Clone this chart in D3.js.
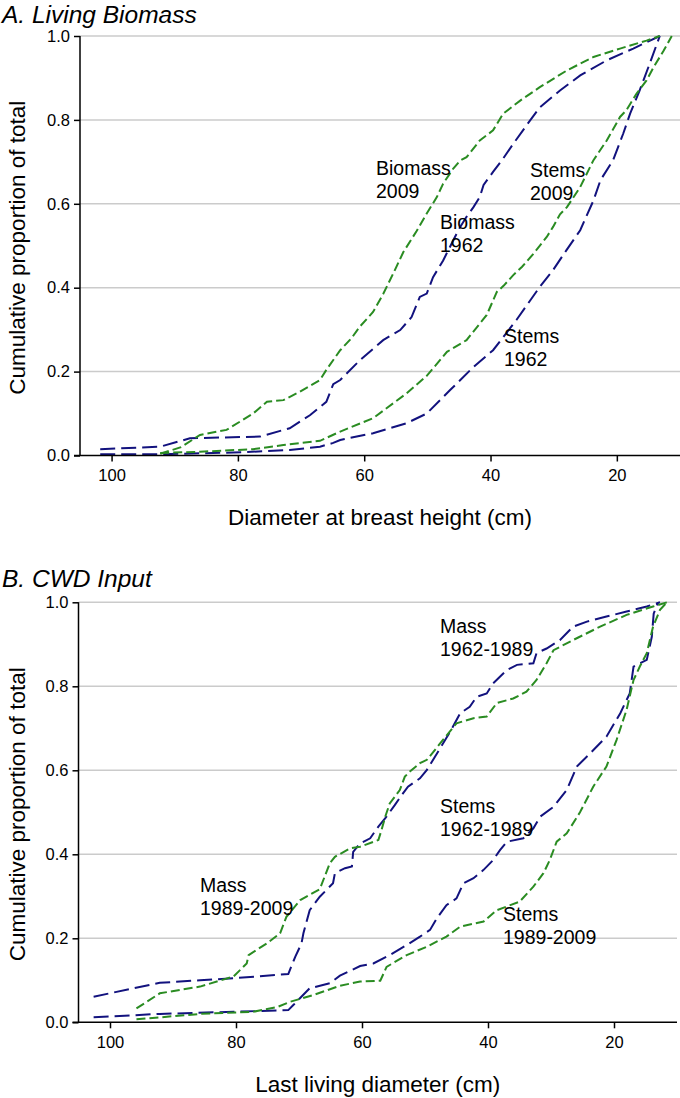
<!DOCTYPE html>
<html><head><meta charset="utf-8">
<script src="https://cdn.jsdelivr.net/npm/d3@7"></script>
<style>
html,body{margin:0;padding:0;background:#fff;}
text{font-family:"Liberation Sans",Arial,sans-serif;fill:#000;}
</style></head>
<body><svg id="c" width="680" height="1098"></svg>
<script>
// ---------- DATA ----------
const yTicks = [0, 0.2, 0.4, 0.6, 0.8, 1.0];
const xTicks = [100, 80, 60, 40, 20];

// Panel A: Living biomass [dbh (cm), cumulative proportion]
const biomass2009 = [[92.3,0.004],[89,0.02],[86,0.049],[81.8,0.061],[77.6,0.10],[75.4,0.128],[72.8,0.132],[70.2,0.152],[67,0.18],[66,0.204],[63.8,0.251],[62,0.28],[60.7,0.307],[58.6,0.342],[57,0.385],[55.4,0.434],[53.8,0.485],[51.7,0.535],[50.1,0.577],[48.5,0.616],[47.5,0.648],[45.9,0.684],[44.8,0.703],[43.8,0.711],[41.7,0.751],[39.6,0.775],[38.0,0.815],[35.3,0.846],[32.2,0.878],[27.9,0.918],[23.7,0.95],[19.5,0.97],[15.3,0.989],[13.2,1.0]];
const biomass1962 = [[101.8,0.015],[92.3,0.021],[87.6,0.041],[76.5,0.045],[71.8,0.065],[68.6,0.096],[66,0.128],[64.9,0.17],[63.8,0.18],[60.7,0.227],[57,0.275],[54.3,0.299],[52.5,0.33],[51.2,0.378],[50.1,0.386],[49.1,0.425],[47.5,0.465],[45.9,0.513],[44.8,0.545],[43.8,0.569],[42.7,0.592],[41.7,0.616],[41.1,0.645],[39.6,0.676],[38.0,0.708],[36.4,0.743],[34.3,0.787],[32.2,0.83],[29.0,0.87],[25.8,0.906],[21.6,0.942],[17.4,0.97],[13.2,1.0]];
const stems2009 = [[92.3,0.006],[86,0.009],[77.6,0.015],[72.8,0.025],[67,0.035],[63.8,0.057],[58.6,0.089],[53.3,0.148],[50.1,0.19],[46.9,0.247],[43.8,0.275],[40.6,0.335],[39,0.39],[37.9,0.405],[36.4,0.43],[35.0,0.45],[33.2,0.481],[31.1,0.521],[30.1,0.545],[29.0,0.575],[27.9,0.592],[25.8,0.64],[23.7,0.704],[21.6,0.751],[19.5,0.807],[18.5,0.823],[16.9,0.862],[15.3,0.894],[14.2,0.925],[12.6,0.965],[11.3,1.0]];
const stems1962 = [[101.8,0.003],[92.3,0.003],[80.7,0.007],[71.8,0.013],[67,0.021],[64.9,0.03],[63.8,0.037],[58.6,0.053],[53.3,0.077],[50.1,0.10],[46.4,0.156],[42.7,0.211],[39.6,0.251],[35.9,0.323],[32.2,0.402],[30.1,0.442],[28,0.489],[25.8,0.537],[23.7,0.608],[22.6,0.656],[20.6,0.704],[19.0,0.767],[17.9,0.815],[16.4,0.87],[14.8,0.934],[13.2,1.0]];

// Panel B: CWD input [last living diameter (cm), cumulative proportion]
const mass1962_1989 = [[102.6,0.061],[92.1,0.094],[85.7,0.10],[80.4,0.105],[71.7,0.115],[70.6,0.156],[69.6,0.188],[69.3,0.212],[68.3,0.267],[66.7,0.299],[64.6,0.331],[64.3,0.355],[62.7,0.367],[61.6,0.371],[61.4,0.406],[60.3,0.426],[58.7,0.438],[57.4,0.466],[56.3,0.486],[54.8,0.517],[53.7,0.541],[52.7,0.561],[50.8,0.581],[49.7,0.601],[48.1,0.64],[46.0,0.692],[44.4,0.736],[42.9,0.751],[41.8,0.775],[40.2,0.783],[39.2,0.807],[37.0,0.839],[35.4,0.851],[32.8,0.855],[32.3,0.879],[30.7,0.89],[28.6,0.91],[26.5,0.942],[24.3,0.954],[21.2,0.966],[18.0,0.978],[14.8,0.99],[12.7,1.0]];
const mass1989_2009 = [[95.8,0.033],[92.1,0.069],[85.7,0.085],[80.4,0.109],[78.3,0.14],[78.0,0.16],[75.1,0.188],[73.0,0.212],[72.0,0.251],[69.8,0.291],[66.7,0.317],[65.1,0.379],[64.3,0.394],[61.9,0.414],[60.3,0.418],[57.4,0.434],[56.9,0.458],[56.3,0.49],[55.6,0.521],[54.0,0.553],[53.2,0.585],[52.4,0.597],[50.8,0.617],[49.7,0.625],[47.6,0.664],[45.0,0.712],[42.3,0.724],[40.2,0.728],[38.6,0.76],[36.0,0.771],[33.9,0.787],[32.3,0.815],[30.7,0.855],[29.6,0.886],[26.5,0.91],[22.2,0.942],[18.0,0.97],[13.8,0.99],[11.6,1.0]];
const stems1962_1989 = [[102.6,0.012],[92.1,0.02],[80.4,0.025],[71.7,0.029],[70.9,0.041],[68.3,0.081],[65.1,0.093],[63.5,0.111],[60.3,0.134],[58.2,0.14],[55.6,0.16],[52.9,0.184],[50.8,0.204],[49.2,0.22],[48.1,0.248],[46.6,0.279],[45.0,0.295],[43.9,0.331],[42.3,0.343],[40.7,0.363],[39.2,0.386],[38.1,0.41],[37.0,0.43],[34.4,0.438],[32.8,0.462],[31.7,0.49],[29.6,0.513],[27.5,0.553],[25.9,0.609],[23.8,0.64],[21.2,0.68],[19.0,0.736],[17.5,0.783],[16.9,0.847],[14.8,0.863],[14.0,0.918],[13.7,0.973],[13.0,1.0]];
const stems1989_2009 = [[95.8,0.007],[85.7,0.02],[77.3,0.025],[73.5,0.036],[71.4,0.049],[67.7,0.065],[63.5,0.087],[60.3,0.097],[57.1,0.099],[56.1,0.132],[52.9,0.16],[49.7,0.18],[46.6,0.204],[44.4,0.228],[40.7,0.24],[38.6,0.267],[35.0,0.287],[32.8,0.323],[31.2,0.355],[30.2,0.386],[29.1,0.43],[27.5,0.45],[25.4,0.5],[23.3,0.561],[21.2,0.609],[19.6,0.672],[18.0,0.744],[16.9,0.815],[15.9,0.847],[14.8,0.879],[13.8,0.942],[12.7,0.982],[11.6,1.0]];

// ---------- STYLE ----------
const NAVY = "#12127e", GREEN = "#2a8c22";
const DASH_NAVY = "15,6", DASH_GREEN = "9,4";

const svg = d3.select("#c");

function panel(cfg) {
  const g = svg.append("g");
  const x = d3.scaleLinear().domain([105, 10]).range([cfg.left, cfg.right]);
  const y = d3.scaleLinear().domain([0, 1]).range([cfg.bottom, cfg.top]);

  // grid
  g.selectAll("line.grid").data(yTicks.filter(t => t > 0)).join("line")
    .attr("x1", cfg.left).attr("x2", cfg.right)
    .attr("y1", d => y(d)).attr("y2", d => y(d))
    .attr("stroke", "#cbcbcb").attr("stroke-width", 1.5);

  // series
  const line = d3.line().x(d => x(d[0])).y(d => y(d[1]));
  cfg.series.forEach(s => {
    g.append("path").datum(s.data).attr("d", line)
      .attr("fill", "none").attr("stroke", s.color).attr("stroke-width", 2)
      .attr("stroke-dasharray", s.dash);
  });

  // axes
  const ax = g.append("g").attr("transform", `translate(0,${cfg.bottom})`)
    .call(d3.axisBottom(x).tickValues(xTicks).tickSize(6).tickPadding(8).tickFormat(d3.format("d")));
  const ay = g.append("g").attr("transform", `translate(${cfg.left},0)`)
    .call(d3.axisLeft(y).tickValues(yTicks).tickSize(6).tickPadding(4).tickFormat(d3.format(".1f")));
  [ax, ay].forEach(a => {
    a.select(".domain").attr("stroke", "#000").attr("stroke-width", 1.5);
    a.selectAll(".tick line").attr("stroke", "#000").attr("stroke-width", 1.5);
    a.selectAll(".tick text").style("font-size", "16.5px").style("font-family", "Liberation Sans, Arial, sans-serif");
  });
  ax.select(".domain").attr("d", `M${cfg.left - 6},0H${cfg.right}`);
  ay.select(".domain").attr("d", `M0,${cfg.bottom}V${cfg.top}`);

  // titles
  g.append("text").attr("x", 2).attr("y", cfg.titleY)
    .style("font-size", "24.5px").style("font-style", "italic").text(cfg.title);
  g.append("text").attr("x", (cfg.left + cfg.right) / 2).attr("y", cfg.xTitleY)
    .attr("text-anchor", "middle").style("font-size", "22.5px").text(cfg.xTitle);
  g.append("text")
    .attr("transform", `translate(25,${(cfg.top + cfg.bottom) / 2 + 2}) rotate(-90)`)
    .attr("text-anchor", "middle").style("font-size", "22.5px")
    .text("Cumulative proportion of total");

  // annotations
  cfg.labels.forEach(l => {
    const t = g.append("text").attr("x", l.x).attr("y", l.y).style("font-size", "19.5px");
    l.lines.forEach((s, i) => t.append("tspan").attr("x", l.x).attr("dy", i ? 22.5 : 0).text(s));
  });
}

panel({
  left: 80, right: 680, top: 36, bottom: 455.5, titleY: 23,
  title: "A. Living Biomass", xTitle: "Diameter at breast height (cm)", xTitleY: 525,
  series: [
    {data: stems1962, color: NAVY, dash: DASH_NAVY},
    {data: biomass1962, color: NAVY, dash: DASH_NAVY},
    {data: stems2009, color: GREEN, dash: DASH_GREEN},
    {data: biomass2009, color: GREEN, dash: DASH_GREEN}
  ],
  labels: [
    {x: 376, y: 175, lines: ["Biomass", "2009"]},
    {x: 530, y: 177, lines: ["Stems", "2009"]},
    {x: 440, y: 229, lines: ["Biomass", "1962"]},
    {x: 504, y: 343, lines: ["Stems", "1962"]}
  ]
});

panel({
  left: 78.5, right: 677, top: 602.3, bottom: 1022.3, titleY: 587,
  title: "B. CWD Input", xTitle: "Last living diameter (cm)", xTitleY: 1092,
  series: [
    {data: stems1962_1989, color: NAVY, dash: DASH_NAVY},
    {data: mass1962_1989, color: NAVY, dash: DASH_NAVY},
    {data: stems1989_2009, color: GREEN, dash: DASH_GREEN},
    {data: mass1989_2009, color: GREEN, dash: DASH_GREEN}
  ],
  labels: [
    {x: 440, y: 633, lines: ["Mass", "1962-1989"]},
    {x: 440, y: 813, lines: ["Stems", "1962-1989"]},
    {x: 200, y: 892, lines: ["Mass", "1989-2009"]},
    {x: 503, y: 921, lines: ["Stems", "1989-2009"]}
  ]
});
</script></body></html>
